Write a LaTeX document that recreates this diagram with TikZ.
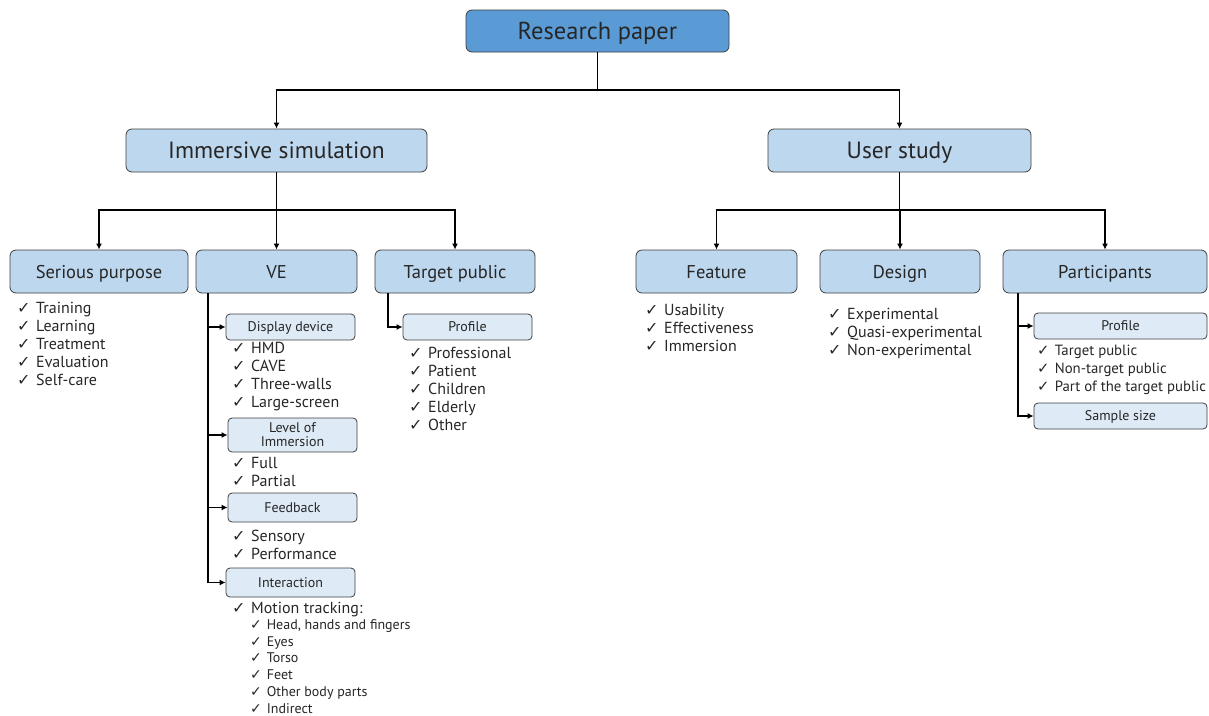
\documentclass[tikz,border=0pt]{standalone}
\usepackage{fontspec}
\setmainfont{PT Sans}
\newfontfamily\chkfont{DejaVu Sans}
\usetikzlibrary{arrows.meta}
\definecolor{topc}{HTML}{5B9BD5}
\definecolor{midc}{HTML}{BDD7EE}
\definecolor{subc}{HTML}{DEEBF7}
\definecolor{bordc}{HTML}{3F3F3F}
\newcommand{\ck}{{\chkfont\char"2713}\hspace{0.35em}}
\begin{document}
\begin{tikzpicture}[x=1pt,y=-1pt,
  boxbase/.style={draw=bordc, line width=0.8pt, rounded corners=6pt, inner sep=0pt, align=center, text=black!85},
  topbox/.style={boxbase, fill=topc, font=\fontsize{24.5}{28}\selectfont, text height=17.2pt, text depth=0pt},
  l1box/.style={boxbase, fill=midc, font=\fontsize{23.5}{27}\selectfont, minimum height=43pt, text height=16.5pt, text depth=0pt},
  l2box/.style={boxbase, fill=midc, font=\fontsize{18.5}{21}\selectfont, minimum height=43pt, text height=13pt, text depth=0pt},
  subbox/.style={boxbase, fill=subc, rounded corners=4pt, font=\fontsize{14}{16}\selectfont, minimum width=129pt},
  subone/.style={subbox, text height=9.8pt, text depth=0pt},
  item/.style={anchor=base west, inner sep=0pt, font=\fontsize{16}{18}\selectfont, text=black!85},
  smallitem/.style={anchor=base west, inner sep=0pt, font=\fontsize{14}{16}\selectfont, text=black!85},
  paitem/.style={item, font=\fontsize{14.8}{18}\selectfont},
  conn/.style={line width=1.7pt, black},
  arr/.style={conn, -{Latex[length=6pt,width=6pt]}}]
\useasboundingbox (0,0) rectangle (1209,715);

% boxes
\node[topbox, minimum width=263pt, minimum height=42pt] (rp) at (597.5,31) {Research paper};
\node[l1box, minimum width=301pt] (is) at (276.5,150.5) {Immersive simulation};
\node[l1box, minimum width=263pt] (us) at (899.5,150.5) {User study};

\node[l2box, minimum width=178pt] (sp) at (99,271.5) {Serious purpose};
\node[l2box, minimum width=161pt] (ve) at (276.5,271.5) {VE};
\node[l2box, minimum width=160pt] (tp) at (455,271.5) {Target public};
\node[l2box, minimum width=161pt] (fe) at (716.5,271.5) {Feature};
\node[l2box, minimum width=160pt] (de) at (900,271.5) {Design};
\node[l2box, minimum width=204pt] (pa) at (1105,271.5) {Participants};

\node[subone, minimum height=26pt] (dd) at (290.5,327) {Display device};
\node[subbox, minimum height=34pt] (li) at (292.5,435) {Level of\\[-2pt]Immersion};
\node[subone, minimum height=29pt] (fb) at (292.5,507.5) {Feedback};
\node[subone, minimum height=29pt] (ia) at (290.5,582.5) {Interaction};
\node[subone, minimum height=26pt] (pr1) at (467.5,327) {Profile};
\node[subone, minimum height=26pt, minimum width=173pt] (pr2) at (1120.5,326) {Profile};
\node[subone, minimum height=26pt, minimum width=173pt] (ss) at (1120.5,416) {Sample size};

% connectors
\coordinate (j0) at (597.5,90);
\draw[conn] (rp.south) -- (j0);
\draw[arr] (j0) -| (is.north);
\draw[arr] (j0) -| (us.north);

\coordinate (j1) at (276.5,210);
\draw[conn] (is.south) -- (j1);
\draw[arr] (j1) -| (sp.north);
\draw[arr] (j1) -- (ve.north);
\draw[arr] (j1) -| (tp.north);

\coordinate (j2) at (899.5,210);
\draw[conn] (us.south) -- (j2);
\draw[arr] (j2) -| (fe.north);
\draw[arr] (j2) -| (de.north);
\draw[arr] (j2) -| (pa.north);

\coordinate (v1) at (208,293);
\draw[arr] (v1) |- (dd.west);
\draw[arr] (v1) |- (li.west);
\draw[arr] (v1) |- (fb.west);
\draw[arr] (v1) |- (ia.west);

\coordinate (v2) at (388,293);
\draw[arr] (v2) |- (pr1.west);

\coordinate (v3) at (1018,293);
\draw[arr] (v3) |- (pr2.west);
\draw[arr] (v3) |- (ss.west);

% lists
\foreach \t [count=\i] in {Training,Learning,Treatment,Evaluation,Self-care}
  \node[item] (spl\i) at (17,313+18*\i-18) {\ck\t};
\foreach \t [count=\i] in {HMD,CAVE,Three-walls,Large-screen}
  \node[item] (ddl\i) at (232,353+18*\i-18) {\ck\t};
\foreach \t [count=\i] in {Full,Partial}
  \node[item] (lil\i) at (232,468+18*\i-18) {\ck\t};
\foreach \t [count=\i] in {Sensory,Performance}
  \node[item] (fbl\i) at (232,541+18*\i-18) {\ck\t};
\node[item] (ial) at (232,613) {\ck Motion tracking:};
\foreach \t [count=\i] in {{Head, hands and fingers},Eyes,Torso,Feet,Other body parts,Indirect}
  \node[smallitem] (iasl\i) at (250,629.5+16.7*\i-16.7) {\ck\t};
\foreach \t [count=\i] in {Professional,Patient,Children,Elderly,Other}
  \node[item] (prl\i) at (409,358+18*\i-18) {\ck\t};
\foreach \t [count=\i] in {Usability,Effectiveness,Immersion}
  \node[item] (fel\i) at (645,315+18*\i-18) {\ck\t};
\foreach \t [count=\i] in {Experimental,Quasi-experimental,Non-experimental}
  \node[item] (del\i) at (828,319+18*\i-18) {\ck\t};
\foreach \t [count=\i] in {Target public,Non-target public,Part of the target public}
  \node[paitem] (pal\i) at (1037,355+18*\i-18) {\ck\t};
\end{tikzpicture}
\end{document}
